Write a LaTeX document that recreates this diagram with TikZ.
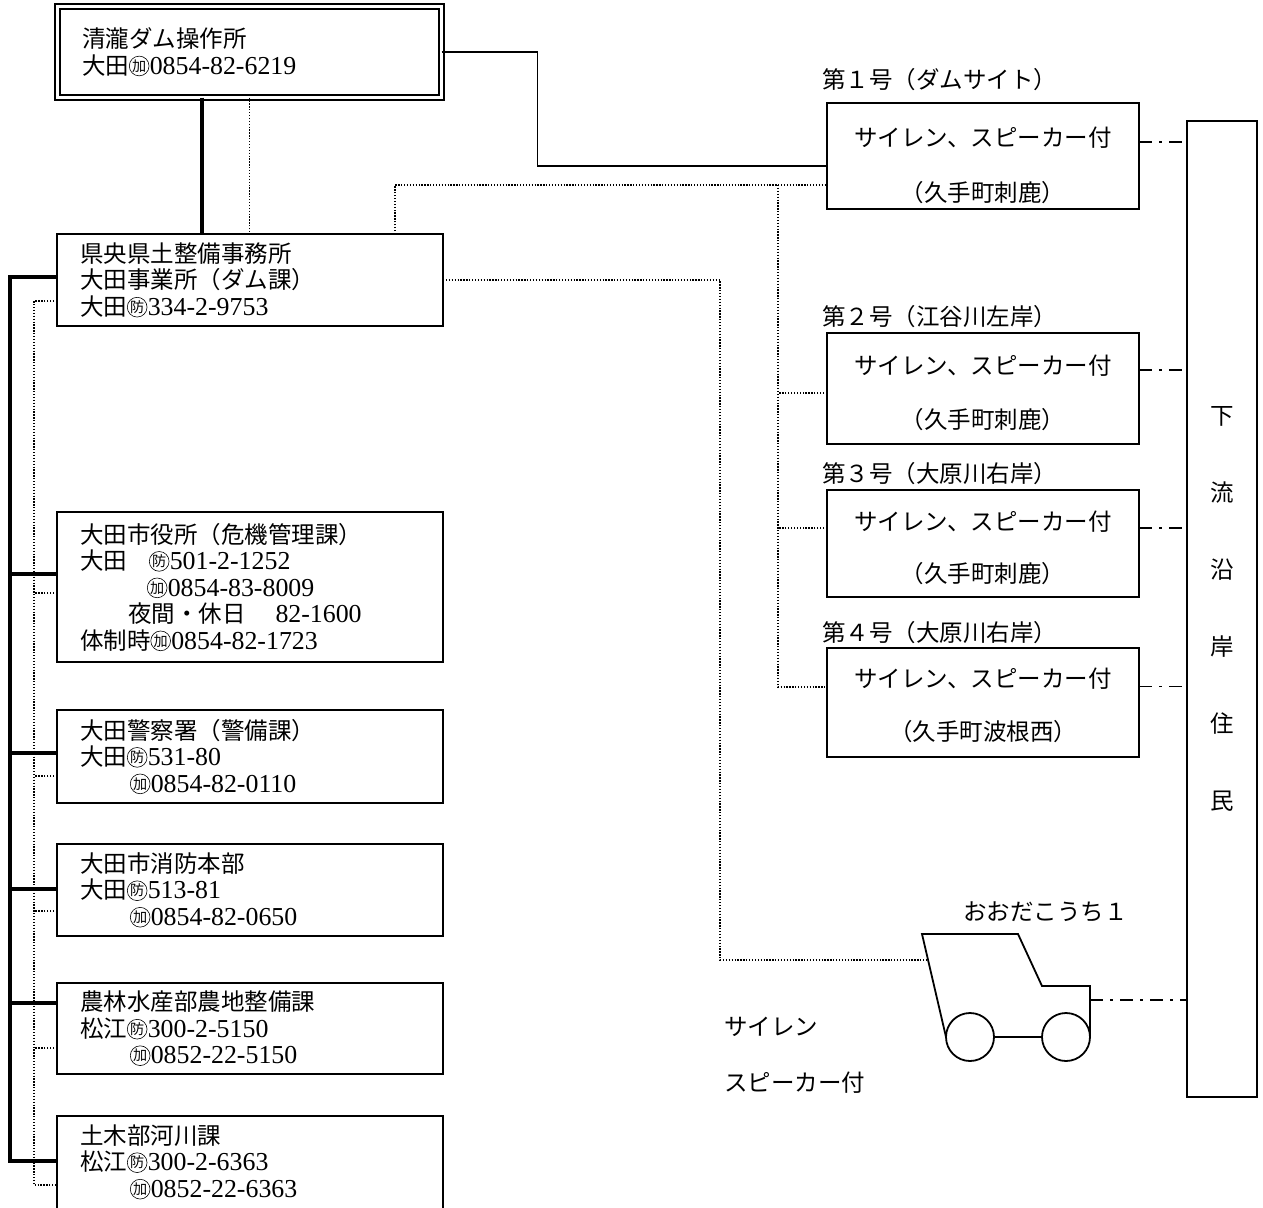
\documentclass[tikz,border=0pt]{standalone}
\usepackage{fontspec}
\setmainfont{Noto Sans CJK JP}
\newfontfamily\rom[Scale=1.1]{Liberation Serif}
\newcommand\jfont{\fontsize{23.5pt}{26.5pt}\selectfont}
% circled ideograph (防, 加): small character inside a stroked ring
\newcommand\maru[1]{%
  \makebox[0.86em]{\raisebox{0.13em}{\scalebox{0.6}{#1}}}%
  \hspace{-0.86em}%
  \begin{pgfpicture}%
    \pgfsetbaseline{0pt}%
    \pgfsetlinewidth{0.6pt}%
    \pgfpathcircle{\pgfpoint{0.42em}{0.35em}}{0.42em}%
    \pgfusepath{stroke}%
  \end{pgfpicture}\hspace{0.02em}}
\begin{document}
\begin{tikzpicture}[x=1pt,y=-1pt,
  box/.style={draw, line width=1.8pt, outer sep=0pt, anchor=north west,
    minimum width=386pt, text width=340pt, inner xsep=23pt, inner ysep=0pt,
    align=left, font=\jfont},
  boxA/.style={draw, double, double distance=2.5pt, line width=2pt, outer sep=0pt,
    anchor=north west, minimum width=384pt, minimum height=91pt, text width=335pt,
    inner xsep=24.5pt, inner ysep=0pt, align=left, font=\jfont},
  sbox/.style={draw, line width=1.8pt, outer sep=0pt, anchor=north west,
    minimum width=312pt},
  stxt/.style={inner sep=0pt, font=\jfont},
  lbl/.style={inner sep=0pt, anchor=west, font=\jfont},
  thk/.style={line width=3.3pt},
  conn/.style={line width=1.6pt},
  dot/.style={line width=1.3pt, dash pattern=on 1.3pt off 1.6pt},
  dd/.style={line width=1.8pt, dash pattern=on 13pt off 7pt on 3pt off 7pt},
  carline/.style={line width=1.8pt, line join=miter}]
\useasboundingbox (0,0) rectangle (1263,1207);
\clip (0,0) rectangle (1263,1207);

% ---- offices ----
\node[boxA] (A) at (57.5,6.5) {清瀧ダム操作所\\大田\maru{加}{\rom 0854-82-6219}};
\node[box, minimum height=92pt] (B) at (57,234)
  {県央県土整備事務所\\大田事業所（ダム課）\\大田\maru{防}{\rom 334-2-9753}};
\node[box, minimum height=150pt] (C) at (57,512)
  {大田市役所（危機管理課）\\
   大田\hspace{22pt}\maru{防}{\rom 501-2-1252}\\
   \hspace*{67pt}\maru{加}{\rom 0854-83-8009}\\
   \hspace*{48pt}夜間・休日\hspace{30pt}{\rom 82-1600}\\
   体制時\maru{加}{\rom 0854-82-1723}};
\node[box, minimum height=93pt] (D) at (57,710)
  {大田警察署（警備課）\\大田\maru{防}{\rom 531-80}\\
   \hspace*{50pt}\maru{加}{\rom 0854-82-0110}};
\node[box, minimum height=92pt] (E) at (57,844)
  {大田市消防本部\\大田\maru{防}{\rom 513-81}\\
   \hspace*{50pt}\maru{加}{\rom 0854-82-0650}};
\node[box, minimum height=91pt] (F) at (57,983)
  {農林水産部農地整備課\\松江\maru{防}{\rom 300-2-5150}\\
   \hspace*{50pt}\maru{加}{\rom 0852-22-5150}};
% last box runs past the lower edge: open at the bottom
\node[box, draw=none, minimum height=92pt] (G) at (57,1116)
  {土木部河川課\\松江\maru{防}{\rom 300-2-6363}\\
   \hspace*{50pt}\maru{加}{\rom 0852-22-6363}};
\draw[line width=1.8pt] ([yshift=-12pt]G.south west) -- (G.north west)
  -- (G.north east) -- ([yshift=-12pt]G.south east);

% ---- sirens ----
\node[sbox, minimum height=106pt] (S1) at (827,103) {};
\node[sbox, minimum height=111pt] (S2) at (827,333) {};
\node[sbox, minimum height=107pt] (S3) at (827,490) {};
\node[sbox, minimum height=109pt] (S4) at (827,648) {};
\node[stxt] (S1a) at ([yshift=-35pt]S1.north) {サイレン、スピーカー付};
\node[stxt] (S1b) at ([yshift=-90pt]S1.north) {（久手町刺鹿）};
\node[stxt] (S2a) at ([yshift=-33pt]S2.north) {サイレン、スピーカー付};
\node[stxt] (S2b) at ([yshift=-87pt]S2.north) {（久手町刺鹿）};
\node[stxt] (S3a) at ([yshift=-32pt]S3.north) {サイレン、スピーカー付};
\node[stxt] (S3b) at ([yshift=-84pt]S3.north) {（久手町刺鹿）};
\node[stxt] (S4a) at ([yshift=-31pt]S4.north) {サイレン、スピーカー付};
\node[stxt] (S4b) at ([yshift=-84pt]S4.north) {（久手町波根西）};
\node[lbl] (L1) at (822,80)  {第１号（ダムサイト）};
\node[lbl] (L2) at (822,317) {第２号（江谷川左岸）};
\node[lbl] (L3) at (822,474) {第３号（大原川右岸）};
\node[lbl] (L4) at (822,633) {第４号（大原川右岸）};

% ---- residents downstream ----
\node[draw, line width=1.8pt, outer sep=0pt, anchor=north west, minimum width=70pt,
  minimum height=976pt, align=center, font=\fontsize{23.5pt}{77pt}\selectfont]
  (R) at (1187,121) {下\\流\\沿\\岸\\住\\民};

% ---- patrol car ----
\draw[carline] (946,1037) -- (922,934) -- (1018,934) -- (1042,986) -- (1090,986) -- (1090,1037);
\draw[carline] (970,1037) circle[radius=24pt];
\draw[carline] (1066,1037) circle[radius=24pt];
\draw[carline] (994,1037) -- (1042,1037);
\coordinate (carL) at (927,960);
\coordinate (carR) at (1090,1000);
\node[lbl] (carname) at (963,912) {おおだこうち１};
\node[lbl] (carsiren) at (724,1027) {サイレン};
\node[lbl] (carspk) at (724,1083) {スピーカー付};

% ---- connectors ----
\draw[thk] ([xshift=-47.5pt]A.south) -- ([xshift=-47.5pt]A.south |- B.north);
\draw[dot] (A.south) -- (A.south |- B.north);
\draw[conn] (A.east) -- ++(96,0) |- ([yshift=-10pt]S1.west);
\draw[dot] ([xshift=145pt]B.north) |- ([yshift=-29pt]S1.west);
\coordinate (tap) at ([xshift=-49pt,yshift=-29pt]S1.west);
\draw[dot] (tap) |- ([yshift=15.5pt]S4.west);
\draw[dot] ([yshift=-4.5pt]S2.west) -- ++(-49,0);
\draw[dot] ([yshift=15.5pt]S3.west) -- ++(-49,0);
\draw[dot] (B.east) -- ++(277,0) |- (carL);

% solid trunk
\draw[thk] ([yshift=3pt]B.west) -- ++(-47,0) |- ([yshift=1pt]G.west);
\draw[thk] ([yshift=13pt]C.west) -- ++(-47,0);
\draw[thk] ([yshift=3.5pt]D.west) -- ++(-47,0);
\draw[thk] ([yshift=1pt]E.west) -- ++(-47,0);
\draw[thk] ([yshift=25.5pt]F.west) -- ++(-47,0);
% dotted trunk
\draw[dot] ([yshift=-21pt]B.west) -- ++(-23,0) |- ([yshift=-23pt]G.west);
\draw[dot] ([yshift=-6pt]C.west) -- ++(-23,0);
\draw[dot] ([yshift=-19.5pt]D.west) -- ++(-23,0);
\draw[dot] ([yshift=-21pt]E.west) -- ++(-23,0);
\draw[dot] ([yshift=-19.5pt]F.west) -- ++(-23,0);

% dash-dot links to residents
\draw[dd] ([yshift=14pt]S1.east) -- ([yshift=14pt]S1.east -| R.west);
\draw[dd] ([yshift=18.5pt]S2.east) -- ([yshift=18.5pt]S2.east -| R.west);
\draw[dd] ([yshift=15.5pt]S3.east) -- ([yshift=15.5pt]S3.east -| R.west);
\draw[dd] ([yshift=16pt]S4.east) -- ([yshift=16pt]S4.east -| R.west);
\draw[dd] (carR) -- (carR -| R.west);
\end{tikzpicture}
\end{document}
